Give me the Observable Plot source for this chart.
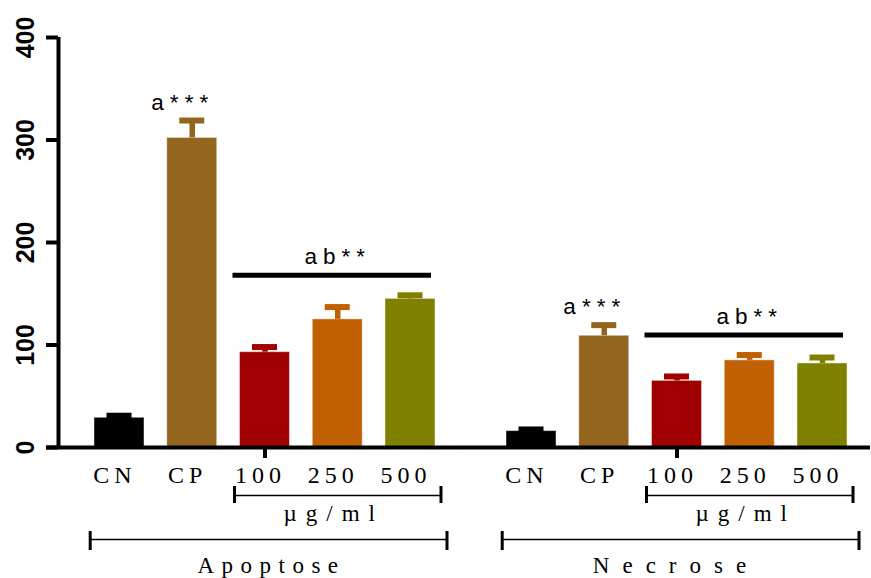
<!DOCTYPE html>
<html>
<head>
<meta charset="utf-8">
<script src="https://cdn.jsdelivr.net/npm/d3@7"></script>
<script src="https://cdn.jsdelivr.net/npm/@observablehq/plot@0.6"></script>
<style>
  body { margin: 0; background: #fff; }
  .category-labels text { letter-spacing: 5px; }
  .dose-unit text { letter-spacing: 9px; }
  .group-label-apoptose text { letter-spacing: 7.5px; }
  .group-label-necrose text { letter-spacing: 13px; }
  .significance text { letter-spacing: 6px; }
</style>
</head>
<body>
<div id="chart"></div>
<script>
// Cell death (%) by treatment, mean and SD per group
const groups = ["Apoptose", "Necrose"];
const categories = ["CN", "CP", "100", "250", "500"];
const apoptoseMean = [29, 302, 93, 125, 145];
const apoptoseSD = [2, 17, 5, 12, 3.5];
const necroseMean = [16, 109, 65, 85, 82];
const necroseSD = [1.6, 10.4, 4.3, 5.2, 5.8];
const barColors = ["#000000", "#94651F", "#A00000", "#C06000", "#808000"];
const yTicks = [0, 100, 200, 300, 400];
const doseUnit = "µg/ml";
const controlMark = "a***";
const doseMark = "ab**";

const means = [apoptoseMean, necroseMean];
const sds = [apoptoseSD, necroseSD];
const rows = groups.flatMap((group, gi) =>
  categories.map((category, ci) => ({
    group,
    category,
    mean: means[gi][ci],
    sd: sds[gi][ci],
    top: means[gi][ci] + sds[gi][ci]
  }))
);
const doses = categories.slice(2);
// height of the line spanning the dose bars: tallest error bar of each group
const sig = groups.map(group => ({
  group,
  y: d3.max(rows.filter(r => r.group === group && doses.includes(r.category)), r => r.top)
}));

const serif = "'Liberation Serif', 'Times New Roman', serif";
const sans = "'Liberation Sans', Arial, sans-serif";

const groupLabel = (name, dx, className) =>
  Plot.text([name], {fx: d => d, text: d => d, frameAnchor: "bottom", dy: 125, dx,
    lineAnchor: "bottom", fontSize: 23, fontFamily: serif, className});

const chart = Plot.plot({
  width: 871,
  height: 578,
  marginTop: 37,
  marginBottom: 131,
  marginLeft: 58,
  marginRight: 13,
  style: {fontFamily: sans, background: "white", color: "black", overflow: "visible"},
  fx: {domain: groups, axis: null, paddingInner: 0.0583, paddingOuter: 0, round: false},
  x: {domain: categories, axis: null, paddingInner: 0.3127, paddingOuter: 0.323, align: 0.766, round: false},
  y: {domain: [0, 400]},
  color: {domain: categories, range: barColors},
  marks: [
    // bars
    Plot.barY(rows, {fx: "group", x: "category", y: "mean", fill: "category",
      stroke: "white", strokeOpacity: 0.45, strokeWidth: 1}),
    // error bars
    Plot.ruleX(rows, {fx: "group", x: "category", y1: "mean", y2: "top",
      stroke: "category", strokeWidth: 5.5}),
    Plot.tickY(rows, {fx: "group", x: "category", y: "top", stroke: "category",
      strokeWidth: 6, insetLeft: 12.5, insetRight: 12.5}),
    // baseline and the tick under the first dose
    Plot.ruleY([0], {strokeWidth: 4, insetLeft: -12, insetRight: -12}),
    Plot.ruleX([doses[0]], {x: d => d, y1: 0, y2: 0, insetBottom: -11, strokeWidth: 4}),
    // y axis
    Plot.ruleX([groups[0]], {fx: d => d, x: () => categories[0], y1: 0, y2: 400,
      dx: -61, strokeWidth: 4}),
    Plot.axisY({ticks: yTicks, tickSize: 12, tickPadding: 13, tickRotate: -90,
      strokeWidth: 4, fontSize: 25, fontWeight: "bold", fontFamily: sans, label: null}),
    // significance annotations
    Plot.ruleY(sig, {fx: "group", x1: () => doses[0], x2: () => doses[2], y: "y",
      dy: -20, strokeWidth: 5, insetLeft: -7, insetRight: 4}),
    Plot.text(sig, {fx: "group", x: () => doses[1], y: "y", text: () => doseMark,
      dy: -31.5, lineAnchor: "bottom", fontSize: 22.5, fontFamily: sans, className: "significance"}),
    Plot.text(rows.filter(r => r.category === "CP"), {fx: "group", x: "category", y: "top",
      text: () => controlMark, dx: -9.5, dy: -11, lineAnchor: "bottom", fontSize: 22.5,
      fontFamily: sans, className: "significance"}),
    // category labels
    Plot.text(categories, {x: d => d, text: d => d, frameAnchor: "bottom", dy: 35,
      dx: -4.5, lineAnchor: "bottom", fontSize: 24, fontFamily: serif, className: "category-labels"}),
    // dose bracket
    Plot.ruleY([0], {x1: () => doses[0], x2: () => doses[2], dy: 48, strokeWidth: 1.5,
      insetLeft: -5.5, insetRight: -5.5}),
    Plot.ruleX([doses[0]], {x: d => d, y1: 0, y2: 0, insetTop: -8.5, insetBottom: -8.5,
      dy: 47.5, dx: -30.5, strokeWidth: 3}),
    Plot.ruleX([doses[2]], {x: d => d, y1: 0, y2: 0, insetTop: -8.5, insetBottom: -8.5,
      dy: 47.5, dx: 30.5, strokeWidth: 3}),
    Plot.text([doseUnit], {x: () => doses[1], text: d => d, frameAnchor: "bottom", dy: 73,
      dx: -4, lineAnchor: "bottom", fontSize: 23, fontFamily: serif, className: "dose-unit"}),
    // group bracket
    Plot.ruleY([0], {x1: () => categories[0], x2: () => categories[4], dy: 92, strokeWidth: 1.5,
      insetLeft: -4, insetRight: -11.5}),
    Plot.ruleX([categories[0]], {x: d => d, y1: 0, y2: 0, insetTop: -9.5, insetBottom: -9.5,
      dy: 93.5, dx: -29.3, strokeWidth: 3}),
    Plot.ruleX([categories[4]], {x: d => d, y1: 0, y2: 0, insetTop: -9.5, insetBottom: -9.5,
      dy: 93.5, dx: 36.5, strokeWidth: 3}),
    groupLabel(groups[0], 19, "group-label-apoptose"),
    groupLabel(groups[1], 11.5, "group-label-necrose")
  ]
});
document.getElementById("chart").appendChild(chart);
</script>
</body>
</html>
